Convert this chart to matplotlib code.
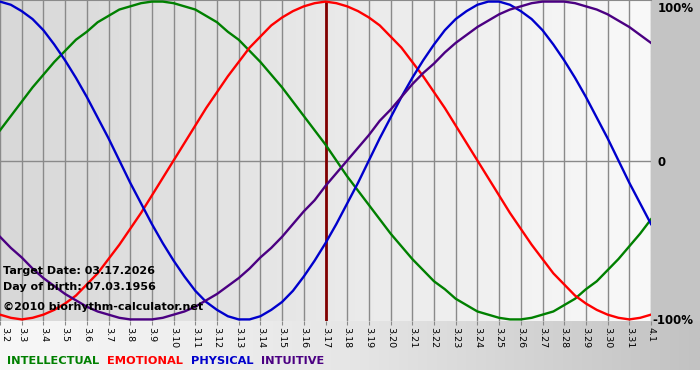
import numpy as np
import matplotlib.pyplot as plt
from matplotlib.colors import LinearSegmentedColormap

# days shown (month.day), target day is 3.17
days = ['3.2', '3.3', '3.4', '3.5', '3.6', '3.7', '3.8', '3.9', '3.10', '3.11',
        '3.12', '3.13', '3.14', '3.15', '3.16', '3.17', '3.18', '3.19', '3.20',
        '3.21', '3.22', '3.23', '3.24', '3.25', '3.26', '3.27', '3.28', '3.29',
        '3.30', '3.31', '4.1']
target_day = '3.17'

# curve values read every half day, from 3.2 to 4.1
intellectual = [0.19, 0.28, 0.37, 0.46, 0.54, 0.62, 0.69, 0.76, 0.81, 0.87,
                0.91, 0.95, 0.97, 0.99, 1.00, 1.00, 0.99, 0.97, 0.95, 0.91,
                0.87, 0.81, 0.76, 0.69, 0.62, 0.54, 0.46, 0.37, 0.28, 0.19,
                0.10, 0.00, -0.10, -0.19, -0.28, -0.37, -0.46, -0.54, -0.62, -0.69,
                -0.76, -0.81, -0.87, -0.91, -0.95, -0.97, -0.99, -1.00, -1.00, -0.99,
                -0.97, -0.95, -0.91, -0.87, -0.81, -0.76, -0.69, -0.62, -0.54, -0.46,
                -0.37]
emotional = [-0.97, -0.99, -1.00, -0.99, -0.97, -0.94, -0.90, -0.85, -0.78, -0.71,
             -0.62, -0.53, -0.43, -0.33, -0.22, -0.11, 0.00, 0.11, 0.22, 0.33,
             0.43, 0.53, 0.62, 0.71, 0.78, 0.85, 0.90, 0.94, 0.97, 0.99,
             1.00, 0.99, 0.97, 0.94, 0.90, 0.85, 0.78, 0.71, 0.62, 0.53,
             0.43, 0.33, 0.22, 0.11, 0.00, -0.11, -0.22, -0.33, -0.43, -0.53,
             -0.62, -0.71, -0.78, -0.85, -0.90, -0.94, -0.97, -0.99, -1.00, -0.99,
             -0.97]
physical = [1.00, 0.98, 0.94, 0.89, 0.82, 0.73, 0.63, 0.52, 0.40, 0.27,
            0.14, 0.00, -0.14, -0.27, -0.40, -0.52, -0.63, -0.73, -0.82, -0.89,
            -0.94, -0.98, -1.00, -1.00, -0.98, -0.94, -0.89, -0.82, -0.73, -0.63,
            -0.52, -0.40, -0.27, -0.14, 0.00, 0.14, 0.27, 0.40, 0.52, 0.63,
            0.73, 0.82, 0.89, 0.94, 0.98, 1.00, 1.00, 0.98, 0.94, 0.89,
            0.82, 0.73, 0.63, 0.52, 0.40, 0.27, 0.14, 0.00, -0.14, -0.27,
            -0.40]
intuitive = [-0.48, -0.55, -0.61, -0.68, -0.74, -0.79, -0.84, -0.88, -0.92, -0.95,
             -0.97, -0.99, -1.00, -1.00, -1.00, -0.99, -0.97, -0.95, -0.92, -0.88,
             -0.84, -0.79, -0.74, -0.68, -0.61, -0.55, -0.48, -0.40, -0.32, -0.25,
             -0.16, -0.08, 0.00, 0.08, 0.16, 0.25, 0.32, 0.40, 0.48, 0.55,
             0.61, 0.68, 0.74, 0.79, 0.84, 0.88, 0.92, 0.95, 0.97, 0.99,
             1.00, 1.00, 1.00, 0.99, 0.97, 0.95, 0.92, 0.88, 0.84, 0.79,
             0.74]

series = [('INTELLECTUAL', intellectual, '#008000'),
          ('EMOTIONAL', emotional, '#ff0000'),
          ('PHYSICAL', physical, '#0000cc'),
          ('INTUITIVE', intuitive, '#4b0082')]

W, H = 700, 380
fig = plt.figure(figsize=(W / 100, H / 100), dpi=100)
fig.patch.set_facecolor('white')

# background bands outside the plot
bg = fig.add_axes([0, 0, 1, 1], zorder=-5)
bg.set_axis_off()
bg.set_xlim(0, W)
bg.set_ylim(H, 0)
band = LinearSegmentedColormap.from_list('band', ['#f8f8f8', '#e6e6e6', '#c2c2c2'])
grad = np.linspace(0, 1, 256).reshape(1, -1)
bg.imshow(grad, cmap=band, extent=[0, W, 370, 321], aspect='auto')
bg.fill_between([651, W], 0, 321, color='#c4c4c4', lw=0)

ax = fig.add_axes([0, (H - 321) / H, 651 / W, 321 / H])
x = np.arange(len(days))
xs = np.linspace(0, len(days) - 1, len(physical))
ax.set_xlim(0, len(days) - 1)
ax.set_ylim(-1.01, 1.01)

inner = LinearSegmentedColormap.from_list('inner', ['#d8d8d8', '#f9f9f9'])
ax.imshow(grad, cmap=inner, extent=[0, len(days) - 1, -1.01, 1.01],
          aspect='auto', zorder=0)

for xi in x:
    ax.axvline(xi, color='#8a8a8a', lw=1, zorder=1)
ax.axhline(0, color='#8a8a8a', lw=1, zorder=1)
ax.axvline(days.index(target_day), color='#800000', lw=2, zorder=2)

for name, vals, col in series:
    ax.plot(xs, vals, color=col, lw=1.7, zorder=3)

for s in ['left', 'right', 'bottom']:
    ax.spines[s].set_visible(False)
ax.spines['top'].set_color('#8a8a8a')
ax.set_yticks([])
ax.set_xticks(x)
ax.set_xticklabels(days, rotation=270, fontsize=6.8)
ax.tick_params(axis='x', length=3, color='#8a8a8a', pad=1)
ax.get_xticklabels()[0].set_horizontalalignment('left')

# side labels
fig.text(658 / W, 1 - 8 / H, '100%', fontsize=8.5, fontweight='bold', va='center')
fig.text(658 / W, 1 - 162 / H, '0', fontsize=8.5, fontweight='bold', va='center')
fig.text(652 / W, 1 - 321 / H, '-100%', fontsize=8.5, fontweight='bold', va='center')

# info text
fig.text(3 / W, 1 - 271 / H, 'Target Date: 03.17.2026', fontsize=8, fontweight='bold', va='center')
fig.text(3 / W, 1 - 287 / H, 'Day of birth: 07.03.1956', fontsize=8, fontweight='bold', va='center')
fig.text(3 / W, 1 - 307 / H, '©2010 biorhythm-calculator.net', fontsize=8, fontweight='bold', va='center')

# legend words
xpos = 7
for name, vals, col in series:
    t = fig.text(xpos / W, 1 - 361 / H, name, color=col, fontsize=8.2, fontweight='bold', va='center')
    fig.canvas.draw()
    bb = t.get_window_extent()
    xpos = bb.x1 + 8

fig.savefig('out.png', dpi=100)
